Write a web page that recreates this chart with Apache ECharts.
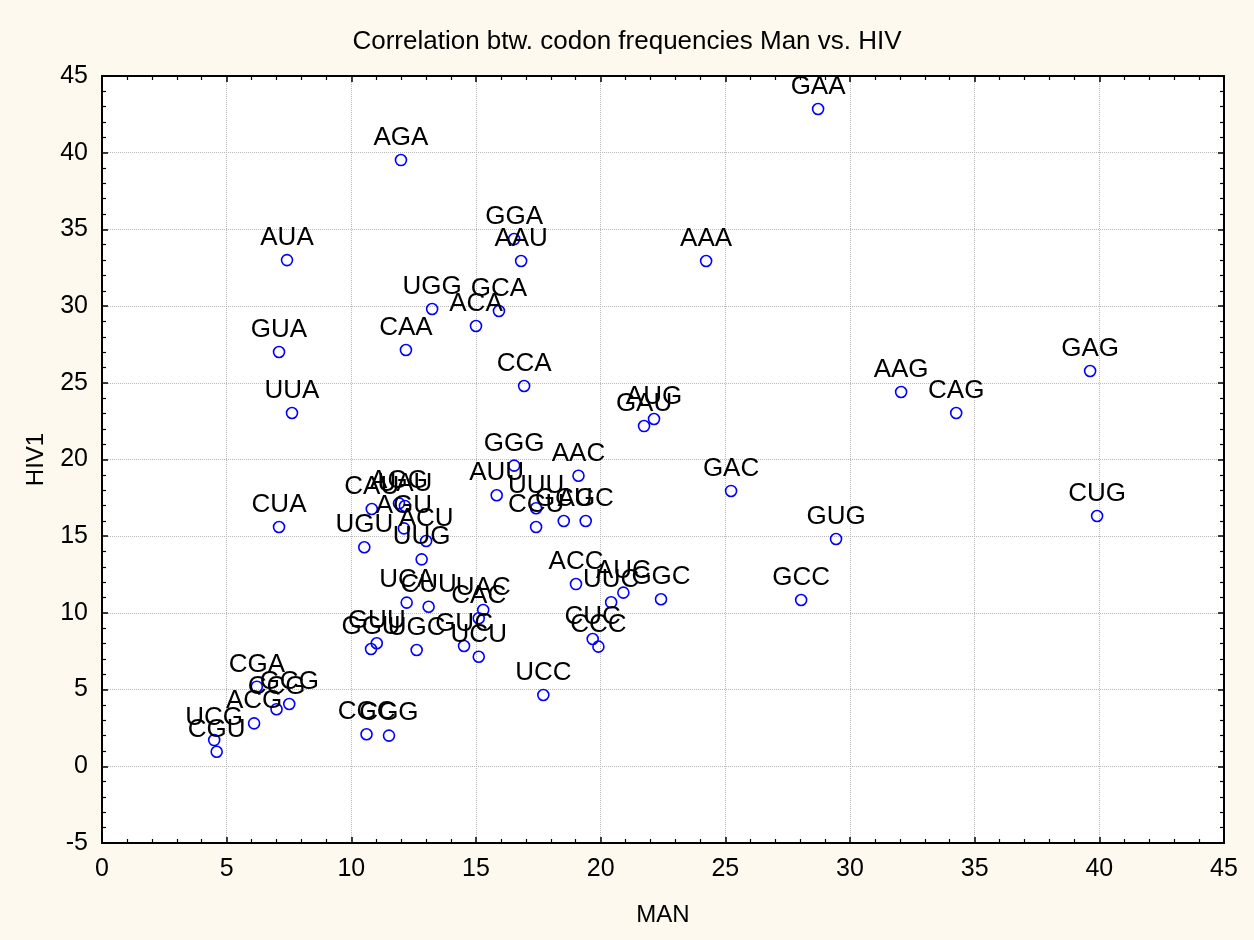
<!DOCTYPE html>
<html>
<head>
<meta charset="utf-8">
<script src="https://cdn.jsdelivr.net/npm/echarts@6/dist/echarts.min.js"></script>
<style>
html,body{margin:0;padding:0;background:#fdf9ee;}
#chart{width:1254px;height:940px;}
</style>
</head>
<body>
<div id="chart"></div>
<script>
const codons = ["GAA","AGA","AUA","GGA","AAU","AAA","UGG","GCA","ACA","GUA",
"CAA","CCA","GAG","AAG","CAG","UUA","GAU","AUG","GGG","AAC",
"AUU","GAC","CUG","CUA","GUG","GCC","UCC","CAU","AGG","UAU",
"AGU","ACU","UGU","UUG","UCA","CUU","UAC","CAC","GUC","UCU",
"UGC","GUU","GGU","UUU","CCU","GCU","AGC","ACC","UUC","AUC",
"GGC","CUC","CCC","CGA","CCG","GCG","ACG","UCG","CGU","CGC","CGG"];
const manFreq = [28.72,11.99,7.42,16.53,16.81,24.23,13.24,15.92,15.0,7.10,
12.19,16.93,39.63,32.05,34.26,7.62,21.74,22.14,16.53,19.11,
15.83,25.23,39.91,7.10,29.44,28.04,17.70,10.82,11.91,12.15,
12.11,13.0,10.52,12.82,12.22,13.10,15.29,15.11,14.52,15.11,
12.62,11.02,10.79,17.41,17.41,18.52,19.40,19.01,20.42,20.91,
22.42,19.68,19.91,6.21,7.0,7.51,6.10,4.50,4.60,10.61,11.51];
const hivFreq = [42.85,39.52,33.0,34.37,32.94,32.94,29.81,29.68,28.70,27.01,
27.14,24.79,25.77,24.40,23.03,23.03,22.18,22.64,19.60,18.94,
17.67,17.95,16.32,15.60,14.82,10.84,4.65,16.77,17.14,16.97,
15.51,14.69,14.28,13.49,10.67,10.40,10.19,9.65,7.84,7.14,
7.58,8.02,7.65,16.82,15.60,15.99,15.99,11.88,10.69,11.32,
10.89,8.30,7.80,5.19,3.72,4.06,2.80,1.71,0.95,2.09,2.0];
const xTicks = {min:0, max:45, step:5};
const yTicks = {min:-5, max:45, step:5};

const data = codons.map((c,i)=>[manFreq[i], hivFreq[i], c]);
const FONT = '"Liberation Sans", Arial, sans-serif';

function axisBase(show){
  return {
    type:'value',
    axisLine:{show:true, onZero:false, lineStyle:{color:'#000', width:2}},
    axisTick:{show:true, inside:true, length:6, lineStyle:{color:'#000', width:1.5}},
    minorTick:{show:true, splitNumber:5, length:4, lineStyle:{color:'#000', width:1.2}},
    axisLabel:{show:show, color:'#000', fontSize:25, fontFamily:FONT, margin:14},
    splitLine:{show:show, lineStyle:{color:'#b8b8b8', type:'dotted', width:1}}
  };
}
const chart = echarts.init(document.getElementById('chart'), null, {renderer:'canvas'});
chart.setOption({
  backgroundColor:'#fdf9ee',
  animation:false,
  title:{text:'Correlation btw. codon frequencies Man vs. HIV', left:'center', top:24,
    textStyle:{fontSize:26, fontWeight:'normal', color:'#000', fontFamily:FONT}},
  grid:{left:102, top:76, width:1122, height:767, backgroundColor:'#fff', show:true, borderWidth:0},
  xAxis:[
    Object.assign(axisBase(true), {min:xTicks.min, max:xTicks.max, interval:xTicks.step, position:'bottom',
      name:'MAN', nameLocation:'middle', nameGap:60, nameMoveOverlap:false,
      nameTextStyle:{fontSize:24, color:'#000', fontFamily:FONT}}),
    Object.assign(axisBase(false), {min:xTicks.min, max:xTicks.max, interval:xTicks.step, position:'top'})
  ],
  yAxis:[
    Object.assign(axisBase(true), {min:yTicks.min, max:yTicks.max, interval:yTicks.step, position:'left',
      name:'HIV1', nameLocation:'middle', nameGap:54, nameMoveOverlap:false,
      nameTextStyle:{fontSize:24, color:'#000', fontFamily:FONT}}),
    Object.assign(axisBase(false), {min:yTicks.min, max:yTicks.max, interval:yTicks.step, position:'right'})
  ],
  series:[{
    type:'scatter',
    data:data,
    symbol:'circle',
    symbolSize:11,
    itemStyle:{color:'rgba(255,255,255,0)', borderColor:'#0000ff', borderWidth:1.6, opacity:1},
    label:{show:true, position:'top', distance:3, color:'#000', opacity:1, textBorderWidth:0,
      fontSize:26, fontFamily:FONT, formatter:p=>p.value[2]},
    labelLayout:{hideOverlap:false},
    z:3
  }]
});
</script>
</body>
</html>
